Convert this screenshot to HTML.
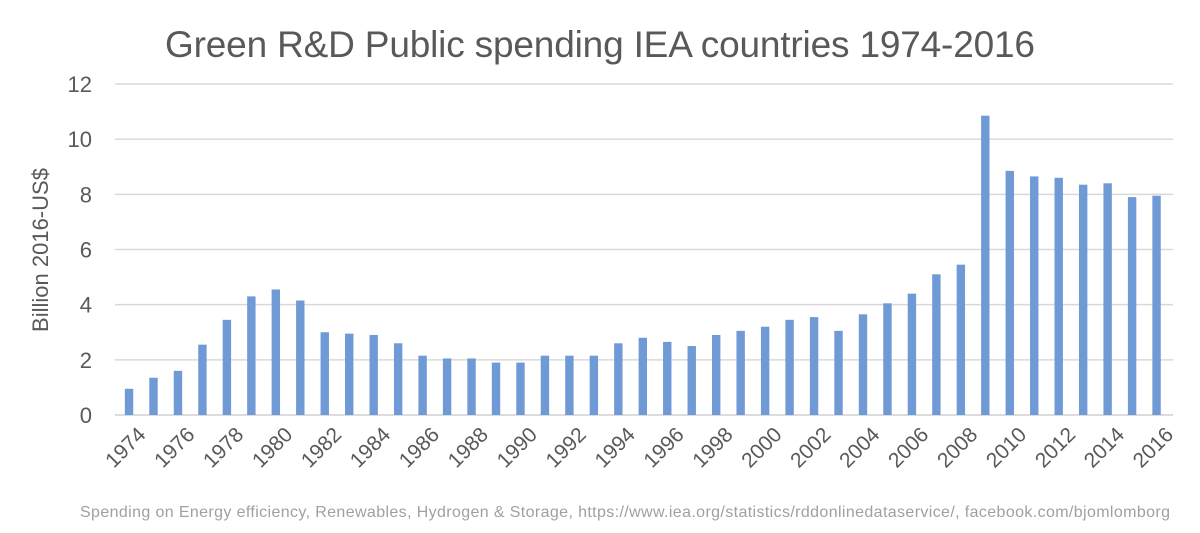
<!DOCTYPE html>
<html><head><meta charset="utf-8"><style>
body{margin:0;background:#fff;}
svg text{font-family:"Liberation Sans",sans-serif;}
</style></head><body>
<svg id="chart" width="1200" height="528">
<text x="600" y="57" text-anchor="middle" font-size="37" fill="#595959" textLength="870">Green R&amp;D Public spending IEA countries 1974-2016</text>
<text transform="translate(48,250) rotate(-90)" text-anchor="middle" font-size="22" fill="#595959">Billion 2016-US$</text>
<text x="80" y="517" font-size="16" fill="#a0a0a0" textLength="1090">Spending on Energy efficiency, Renewables, Hydrogen &amp; Storage, https://www.iea.org/statistics/rddonlinedataservice/, facebook.com/bjomlomborg</text>
<g id="grid"></g><g id="bars"></g><g id="xlabels"></g>
</svg>
<script>
const years=[];for(let y=1974;y<=2016;y++)years.push(y);
const values=[0.95,1.35,1.6,2.55,3.45,4.3,4.55,4.15,3.0,2.95,2.9,2.6,2.15,2.05,2.05,1.9,1.9,2.15,2.15,2.15,2.6,2.8,2.65,2.5,2.9,3.05,3.2,3.45,3.55,3.05,3.65,4.05,4.4,5.1,5.45,10.85,8.85,8.65,8.6,8.35,8.4,7.9,7.95];
const yTicks=[0,2,4,6,8,10,12];
const NS="http://www.w3.org/2000/svg";
const x0=116.8,x1=1168.8,y0=415,yTop=84,ymax=12;
const bw=(x1-x0)/years.length;
const yS=v=>y0-(v/ymax)*(y0-yTop);
const xS=i=>x0+bw*(i+0.5);
const g=document.getElementById('grid'),b=document.getElementById('bars'),xl=document.getElementById('xlabels');
yTicks.forEach(t=>{
 const l=document.createElementNS(NS,'line');
 l.setAttribute('x1',115);l.setAttribute('x2',1173);l.setAttribute('y1',yS(t));l.setAttribute('y2',yS(t));
 l.setAttribute('stroke',t===0?'#d0d0d0':'#d9d9d9');l.setAttribute('stroke-width',1.5);
 
 
 g.appendChild(l);
 const tx=document.createElementNS(NS,'text');
 tx.setAttribute('x',92);tx.setAttribute('y',yS(t)+8);tx.setAttribute('text-anchor','end');
 tx.setAttribute('font-size',22);tx.setAttribute('fill','#595959');tx.textContent=t;
 
 
 g.appendChild(tx);
});
values.forEach((v,i)=>{
 const r=document.createElementNS(NS,'rect');
 r.setAttribute('x',xS(i)-4.2);r.setAttribute('width',8.4);
 r.setAttribute('y',yS(v));r.setAttribute('height',y0-yS(v));r.setAttribute('fill','#6f9ad5');
 
 
 b.appendChild(r);
 if(i%2===0){
  const t=document.createElementNS(NS,'text');
  const cx=xS(i)+8,cy=426;
  t.setAttribute('transform','translate('+cx+','+cy+') rotate(-45)');
  t.setAttribute('text-anchor','end');t.setAttribute('dy','14');
  t.setAttribute('font-size',21);t.setAttribute('fill','#595959');t.textContent=years[i];
  
  
  xl.appendChild(t);
 }
});
</script>
</body></html>
